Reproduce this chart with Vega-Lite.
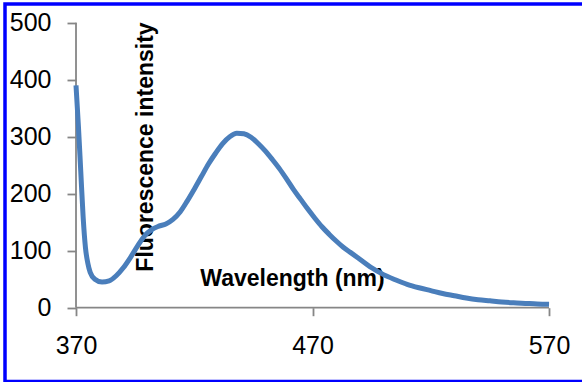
{
  "$schema": "https://vega.github.io/schema/vega-lite/v6.json",
  "width": 580,
  "height": 377.5,
  "autosize": {"type": "none"},
  "padding": {"left": 5, "top": 4, "right": 0, "bottom": 0},
  "background": "white",
  "config": {
    "view": {"stroke": "#0000FF", "strokeWidth": 3.5},
    "font": "Liberation Sans"
  },
  "resolve": {"axis": {"x": "independent", "y": "independent"}},
  "layer": [
    {
      "data": {"values": [{}]},
      "mark": {"type": "rule", "color": "#868686", "strokeWidth": 1.8},
      "encoding": {
        "x": {"datum": 370, "type": "quantitative", "scale": {"domain": [339.98, 585.2], "nice": false, "zero": false}, "axis": null},
        "x2": {"datum": 570},
        "y": {"datum": 0, "type": "quantitative", "scale": {"domain": [-129.5, 532.8], "nice": false, "zero": false}, "axis": null}
      }
    },
    {
      "data": {"values": [{}]},
      "mark": {"type": "rule", "color": "#868686", "strokeWidth": 1.8},
      "encoding": {
        "x": {"datum": 370, "type": "quantitative", "scale": {"domain": [339.98, 585.2], "nice": false, "zero": false}, "axis": null},
        "y": {"datum": 0, "type": "quantitative", "scale": {"domain": [-129.5, 532.8], "nice": false, "zero": false}, "axis": null},
        "y2": {"datum": 500}
      }
    },
    {
      "data": {
        "values": [
          {"nm": 370, "intensity": 390},
          {"nm": 371, "intensity": 320},
          {"nm": 372, "intensity": 240},
          {"nm": 373, "intensity": 160},
          {"nm": 374, "intensity": 105},
          {"nm": 375, "intensity": 78},
          {"nm": 376, "intensity": 62},
          {"nm": 378, "intensity": 50},
          {"nm": 381, "intensity": 45},
          {"nm": 384, "intensity": 47},
          {"nm": 387, "intensity": 56},
          {"nm": 390, "intensity": 70},
          {"nm": 393, "intensity": 88},
          {"nm": 396, "intensity": 108},
          {"nm": 399, "intensity": 126},
          {"nm": 402, "intensity": 137},
          {"nm": 405, "intensity": 143},
          {"nm": 408, "intensity": 147},
          {"nm": 411, "intensity": 155},
          {"nm": 414, "intensity": 168},
          {"nm": 417, "intensity": 187},
          {"nm": 420, "intensity": 208},
          {"nm": 423, "intensity": 230},
          {"nm": 426, "intensity": 252},
          {"nm": 429, "intensity": 271},
          {"nm": 432, "intensity": 288},
          {"nm": 435, "intensity": 300},
          {"nm": 438, "intensity": 306},
          {"nm": 441, "intensity": 305},
          {"nm": 444, "intensity": 299},
          {"nm": 447, "intensity": 288},
          {"nm": 450, "intensity": 275},
          {"nm": 453, "intensity": 260},
          {"nm": 456, "intensity": 244},
          {"nm": 459, "intensity": 226},
          {"nm": 462, "intensity": 207},
          {"nm": 465, "intensity": 190},
          {"nm": 468, "intensity": 173},
          {"nm": 471, "intensity": 157},
          {"nm": 474, "intensity": 142},
          {"nm": 477, "intensity": 129},
          {"nm": 480, "intensity": 117},
          {"nm": 483, "intensity": 106},
          {"nm": 486, "intensity": 97},
          {"nm": 489, "intensity": 88},
          {"nm": 492, "intensity": 79},
          {"nm": 495, "intensity": 70},
          {"nm": 500, "intensity": 58},
          {"nm": 505, "intensity": 49},
          {"nm": 510, "intensity": 41},
          {"nm": 515, "intensity": 35},
          {"nm": 520, "intensity": 30},
          {"nm": 525, "intensity": 25},
          {"nm": 530, "intensity": 21},
          {"nm": 535, "intensity": 17},
          {"nm": 540, "intensity": 14},
          {"nm": 545, "intensity": 12},
          {"nm": 550, "intensity": 10},
          {"nm": 555, "intensity": 8.5},
          {"nm": 560, "intensity": 7.5},
          {"nm": 565, "intensity": 6.5},
          {"nm": 570, "intensity": 6}
        ]
      },
      "mark": {"type": "line", "color": "#4A7EBB", "strokeWidth": 5, "interpolate": "monotone", "strokeCap": "butt"},
      "encoding": {
        "x": {
          "field": "nm",
          "type": "quantitative",
          "scale": {"domain": [339.98, 585.2], "nice": false, "zero": false},
          "axis": {
            "values": [370, 470, 570],
            "domain": false,
            "grid": false,
            "offset": -73.8,
            "ticks": true,
            "tickColor": "#868686",
            "tickWidth": 1.8,
            "tickSize": 8,
            "labelFontSize": 25,
            "labelColor": "#000000",
            "labelPadding": 18,
            "labelFlush": false,
            "labelOverlap": false,
            "title": "Wavelength (nm)",
            "titleFontSize": 23,
            "titleFontWeight": "bold",
            "titleColor": "#000000",
            "titleAlign": "center",
            "titleBaseline": "alphabetic",
            "titleAngle": 0,
            "titleX": 287,
            "titleY": -22.7
          }
        },
        "y": {
          "field": "intensity",
          "type": "quantitative",
          "scale": {"domain": [-129.5, 532.8], "nice": false, "zero": false},
          "axis": {
            "values": [0, 100, 200, 300, 400, 500],
            "domain": false,
            "grid": false,
            "offset": -71,
            "ticks": true,
            "tickColor": "#868686",
            "tickWidth": 1.8,
            "tickSize": 9,
            "labelFontSize": 25,
            "labelColor": "#000000",
            "labelPadding": 16,
            "labelFlush": false,
            "labelOverlap": false,
            "title": "Fluorescence intensity",
            "titleFontSize": 23,
            "titleFontWeight": "bold",
            "titleColor": "#000000",
            "titleAlign": "center",
            "titleBaseline": "alphabetic",
            "titleAngle": 270,
            "titleX": 76,
            "titleY": 142.5
          }
        }
      }
    }
  ]
}
